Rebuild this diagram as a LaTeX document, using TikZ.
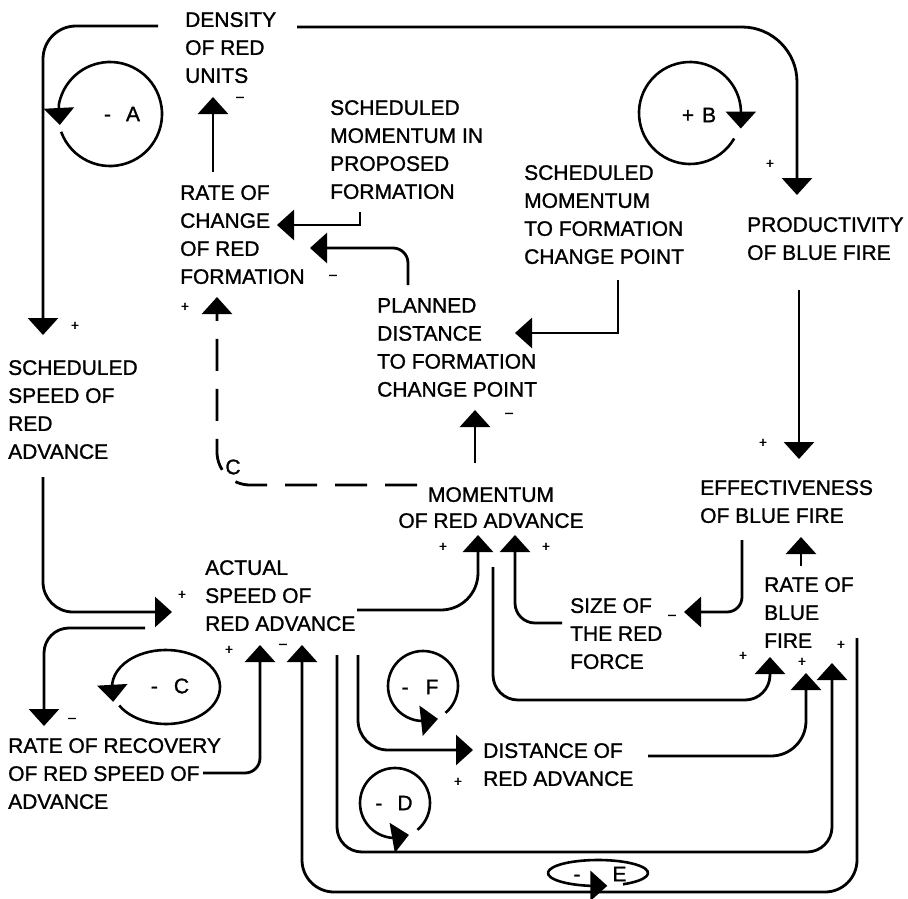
\documentclass[tikz,border=0pt]{standalone}
\usepackage{fontspec}
\setmainfont[FakeBold=1.2]{Liberation Sans}
\usetikzlibrary{arrows.meta}
\begin{document}
\begin{tikzpicture}[x=1pt,y=-1pt,
  lbl/.style={font=\fontsize{21}{28}\selectfont, align=left, inner sep=0pt, anchor=north west},
  loopl/.style={font=\fontsize{21}{28}\selectfont, inner sep=0pt},
  sgn/.style={font=\fontsize{14}{14}\selectfont, inner sep=0pt},
  link/.style={line width=2.8pt, -{Triangle[width=30pt,length=17pt]}, rounded corners=#1},
  link/.default=0pt,
  loopline/.style={line width=2.6pt, -{Triangle[width=30pt,length=17pt]}},
  ]
\useasboundingbox (0,0) rectangle (908,899);
% ---------- variables ----------
\node[lbl] (density) at (185,12) {DENSITY\\OF RED\\UNITS};
\node[lbl] (schedprop) at (330,100) {SCHEDULED\\MOMENTUM IN\\PROPOSED\\FORMATION};
\node[lbl] (ratechange) at (180,185) {RATE OF\\CHANGE\\OF RED\\FORMATION};
\node[lbl] (schedchange) at (524,165) {SCHEDULED\\MOMENTUM\\TO FORMATION\\CHANGE POINT};
\node[lbl] (productivity) at (747,217) {PRODUCTIVITY\\OF BLUE FIRE};
\node[lbl] (planned) at (377,298) {PLANNED\\DISTANCE\\TO FORMATION\\CHANGE POINT};
\node[lbl] (schedspeed) at (8,360) {SCHEDULED\\SPEED OF\\RED\\ADVANCE};
\node[lbl,anchor=north,align=center,font=\fontsize{21}{26}\selectfont] (momentum) at (491,487) {MOMENTUM\\OF RED ADVANCE};
\node[lbl] (effectiveness) at (700,480) {EFFECTIVENESS\\OF BLUE FIRE};
\node[lbl] (rateblue) at (764,577) {RATE OF\\BLUE\\FIRE};
\node[lbl] (size) at (570,598) {SIZE OF\\THE RED\\FORCE};
\node[lbl] (actual) at (205,560) {ACTUAL\\SPEED OF\\RED ADVANCE};
\node[lbl] (distance) at (483,743) {DISTANCE OF\\RED ADVANCE};
\node[lbl] (recovery) at (8,738) {RATE OF RECOVERY\\OF RED SPEED OF\\ADVANCE};
% ---------- connector ports ----------
\coordinate (densR) at (297,27);   \coordinate (prodT) at (797,195);
\coordinate (densL) at (158,26);   \coordinate (sspeedT) at (43,335);
\coordinate (spropB) at (360,212); \coordinate (rcIn1) at (277,225);
\coordinate (planT) at (408,285);  \coordinate (rcIn2) at (310,248);
\coordinate (rcT) at (213,172);    \coordinate (densB) at (213,97);
\coordinate (schB) at (618,280);   \coordinate (planIn) at (515,333);
\coordinate (prodB) at (799,290);  \coordinate (effT) at (799,459);
\coordinate (momT) at (475,463);   \coordinate (planB) at (475,410);
\coordinate (momL) at (417,485);   \coordinate (rcB) at (217,297);
\coordinate (actR) at (357,610);   \coordinate (momIn1) at (478,535);
\coordinate (sizeL) at (562,623);  \coordinate (momIn2) at (515,535);
\coordinate (effB) at (742,540);   \coordinate (sizeIn) at (684,612);
\coordinate (rbT) at (801,566);    \coordinate (effIn) at (801,537);
\coordinate (sspeedB) at (43,477); \coordinate (actIn1) at (172,612);
\coordinate (actL) at (145,628);   \coordinate (recT) at (44,726);
\coordinate (recR) at (203,773);   \coordinate (actIn2) at (260,645);
\coordinate (rbR) at (857,638);    \coordinate (actIn3) at (302,645);
\coordinate (actB1) at (337,655);  \coordinate (rbIn3) at (832,663);
\coordinate (actB2) at (358,655);  \coordinate (distIn) at (473,750);
\coordinate (distR) at (648,756);  \coordinate (rbIn2) at (806,673);
\coordinate (momB) at (493,567);   \coordinate (rbIn1) at (770,657);
% ---------- connectors ----------
\draw[link=55pt] (densR) -| (prodT);
\draw[link=33pt] (densL) -| (sspeedT);
\draw[link] (spropB) |- (rcIn1);
\draw[link=15pt] (planT) |- (rcIn2);
\draw[link] (rcT) -- (densB);
\draw[link] (schB) |- (planIn);
\draw[link] (prodB) -- (effT);
\draw[link] (momT) -- (planB);
\draw[link=33pt, dash pattern=on 32pt off 18pt] (momL) -| (rcB);
\draw[link=37pt] (actR) -| (momIn1);
\draw[link=20pt] (sizeL) -| (momIn2);
\draw[link=15pt] (effB) |- (sizeIn);
\draw[link] (rbT) -- (effIn);
\draw[link=30pt] (sspeedB) |- (actIn1);
\draw[link=25pt] (actL) -| (recT);
\draw[link=15pt] (recR) -| (actIn2);
\draw[link=32pt] (rbR) -- (857,892) -| (actIn3);
\draw[link=25pt] (actB1) -- (337,852) -| (rbIn3);
\draw[link=30pt] (actB2) |- (distIn);
\draw[link=35pt] (distR) -| (rbIn2);
\draw[link=25pt] (momB) -- (493,700) -| (rbIn1);
% ---------- loop markers ----------
\draw[loopline] ([shift={(160:52)}]110,114) arc[start angle=520,end angle=190,radius=52] -- ++(1,20);
\draw[loopline] ([shift={(30:51)}]690,113) arc[start angle=30,end angle=355,radius=51] -- ++(0,20);
\draw[loopline] ([shift={(150:54 and 37)}]166,687) arc[start angle=510,end angle=185,x radius=54,y radius=37] -- ++(1,18);
\draw[loopline] ([shift={(50:35)}]423,686) arc[start angle=410,end angle=95,radius=35] -- ++(18,-2);
\draw[loopline] ([shift={(50:35)}]395,803) arc[start angle=410,end angle=95,radius=35] -- ++(17,-3);
\draw[loopline] ([shift={(60:50 and 13)}]598,873) arc[start angle=420,end angle=100,x radius=50,y radius=13] -- ++(18,0);
\node[loopl] (la) at (122,114) {-\hspace{15pt}A};
\node[loopl] (lb) at (699,115) {+\hspace{8pt}B};
\node[loopl] (lcc) at (170,686) {-\hspace{16pt}C};
\node[loopl] (lf) at (420,687) {-\hspace{17pt}F};
\node[loopl] (ld) at (394,803) {-\hspace{15pt}D};
\node[loopl] (le) at (600,874) {-\hspace{32pt}E};
\node[loopl] (lc) at (233,467) {C};
% ---------- polarities ----------
\node[sgn] (p1) at (240,99) {\textendash};
\node[sgn] (p2) at (333,277) {\textendash};
\node[sgn] (p3) at (185,307) {+};
\node[sgn] (p4) at (75,326) {+};
\node[sgn] (p5) at (770,164) {+};
\node[sgn] (p6) at (509,415) {\textendash};
\node[sgn] (p7) at (763,443) {+};
\node[sgn] (p8) at (443,547) {+};
\node[sgn] (p9) at (546,547) {+};
\node[sgn] (p10) at (672,617) {\textendash};
\node[sgn] (p11) at (182,595) {+};
\node[sgn] (p12) at (229,650) {+};
\node[sgn] (p13) at (283,646) {\textendash};
\node[sgn] (p14) at (72,720) {\textendash};
\node[sgn] (p15) at (458,782) {+};
\node[sgn] (p16) at (743,656) {+};
\node[sgn] (p17) at (802,662) {+};
\node[sgn] (p18) at (841,645) {+};
\end{tikzpicture}
\end{document}
